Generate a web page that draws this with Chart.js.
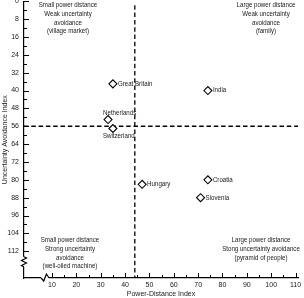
<!DOCTYPE html>
<html>
<head>
<meta charset="utf-8">
<script src="https://cdn.jsdelivr.net/npm/chart.js@4.4.0/dist/chart.umd.min.js"></script>
<style>
  html, body { margin: 0; padding: 0; background: #fff; }
</style>
</head>
<body>
<canvas id="cultureChart" width="304" height="298"></canvas>
<script>
const countries = ['Great Britain', 'India', 'Netherlands', 'Switzerland', 'Hungary', 'Croatia', 'Slovenia'];
const powerDistance = [35, 74, 33, 35, 47, 74, 71];
const uncertaintyAvoidance = [37, 40, 53, 57, 82, 80, 88];

const xTickValues = [10, 15, 20, 25, 30, 35, 40, 45, 50, 55, 60, 65, 70, 75, 80, 85, 90, 95, 100, 105, 110];
const yTickValues = [0, 4, 8, 12, 16, 20, 24, 28, 32, 36, 40, 44, 48, 52, 56, 60, 64, 68, 72, 76, 80, 84, 88, 92, 96, 100, 104, 108, 112];

const pdCut = 44;
const uaiCut = 56;

const quadrantTexts = [
  ['Small power distance', 'Weak uncertainty', 'avoidance', '(village market)'],
  ['Large power distance', 'Weak uncertainty', 'avoidance', '(family)'],
  ['Small power distance', 'Strong uncertainty', 'avoidance', '(well-oiled machine)'],
  ['Large power distance', 'Stong uncertainty avoidance', '(pyramid of people)']
];

// label placement per point (style only)
const labelPlace = [
  { align: 'left', dx: 5, dy: 0 },
  { align: 'left', dx: 5, dy: 0 },
  { align: 'left', dx: -5, dy: -7 },
  { align: 'left', dx: -10, dy: 8 },
  { align: 'left', dx: 5, dy: 0 },
  { align: 'left', dx: 5, dy: 0 },
  { align: 'left', dx: 5, dy: 0 }
];
// quadrant text anchors in pixels: [centerX, firstLineY]
const quadrantPos = [[68, 5], [266, 5], [70, 240], [261, 240.5]];
const SQUEEZE = 0.88;

const FONT = '"Liberation Sans", Arial, sans-serif';
const INK = '#1a1a1a';

const points = powerDistance.map((pd, i) => ({ x: pd, y: uncertaintyAvoidance[i] }));

function squeezedText(ctx, text, x, y) {
  ctx.save();
  ctx.translate(x, y);
  ctx.scale(SQUEEZE, 1);
  ctx.fillText(text, 0, 0);
  ctx.restore();
}

const decorPlugin = {
  id: 'decor',
  beforeDatasetsDraw(chart) {
    const { ctx, chartArea, scales } = chart;
    const px = scales.x.getPixelForValue(pdCut);
    const py = scales.y.getPixelForValue(uaiCut);
    ctx.save();
    ctx.strokeStyle = '#000';
    ctx.lineWidth = 1.3;
    ctx.setLineDash([4.5, 2.8]);
    ctx.beginPath();
    ctx.moveTo(px, chartArea.top + 4);
    ctx.lineTo(px, chartArea.bottom);
    ctx.moveTo(chartArea.left, py);
    ctx.lineTo(chartArea.right, py);
    ctx.stroke();
    ctx.restore();
  },
  afterDraw(chart) {
    const { ctx, chartArea, scales } = chart;
    const left = chartArea.left, bottom = chartArea.bottom;
    ctx.save();
    ctx.strokeStyle = '#000';
    ctx.lineWidth = 1;
    // tick marks drawn inward
    ctx.beginPath();
    yTickValues.forEach(v => {
      const y = Math.round(scales.y.getPixelForValue(v)) + 0.5;
      const len = v % 8 === 0 ? 5 : 3;
      ctx.moveTo(left, y);
      ctx.lineTo(left + len, y);
    });
    xTickValues.forEach(v => {
      const x = Math.round(scales.x.getPixelForValue(v)) + 0.5;
      const len = v % 10 === 0 ? 5 : 3;
      ctx.moveTo(x, bottom);
      ctx.lineTo(x, bottom - len);
    });
    ctx.stroke();

    // axis breaks
    const yb1 = scales.y.getPixelForValue(114.5);
    const yb2 = scales.y.getPixelForValue(119);
    ctx.fillStyle = '#fff';
    ctx.fillRect(left - 3, yb1, 6, yb2 - yb1);
    const xb1 = scales.x.getPixelForValue(5.5);
    const xb2 = scales.x.getPixelForValue(8.8);
    ctx.fillRect(xb1, bottom - 3, xb2 - xb1, 6);
    ctx.lineWidth = 1.2;
    ctx.beginPath();
    const hy = (yb2 - yb1) / 4;
    ctx.moveTo(left, yb1);
    ctx.lineTo(left + 2.5, yb1 + hy * 0.5);
    ctx.lineTo(left - 2.5, yb1 + hy * 1.5);
    ctx.lineTo(left + 2.5, yb1 + hy * 2.5);
    ctx.lineTo(left - 2.5, yb1 + hy * 3.5);
    ctx.lineTo(left, yb2);
    ctx.stroke();
    ctx.beginPath();
    const hx = (xb2 - xb1) / 3;
    ctx.moveTo(xb1, bottom);
    ctx.lineTo(xb1 + hx, bottom + 3);
    ctx.lineTo(xb1 + hx * 2, bottom - 4);
    ctx.lineTo(xb2, bottom);
    ctx.stroke();

    // point labels
    ctx.fillStyle = INK;
    ctx.font = '7px ' + FONT;
    ctx.textBaseline = 'middle';
    const meta = chart.getDatasetMeta(0);
    meta.data.forEach((el, i) => {
      const p = labelPlace[i];
      ctx.textAlign = p.align;
      squeezedText(ctx, countries[i], el.x + p.dx, el.y + p.dy);
    });

    // quadrant texts
    ctx.textAlign = 'center';
    quadrantTexts.forEach((lines, q) => {
      const [cx, y0] = quadrantPos[q];
      lines.forEach((t, k) => squeezedText(ctx, t, cx, y0 + k * 8.8));
    });
    ctx.restore();
  }
};

new Chart(document.getElementById('cultureChart'), {
  type: 'scatter',
  data: {
    datasets: [{
      label: 'Countries',
      data: points,
      pointStyle: 'rectRot',
      radius: 4,
      hoverRadius: 4,
      borderWidth: 1.1,
      borderColor: '#000',
      backgroundColor: '#fff'
    }]
  },
  options: {
    responsive: false,
    animation: false,
    devicePixelRatio: 1,
    layout: { autoPadding: false, padding: { top: 1.3, right: 6, left: 0, bottom: 0 } },
    plugins: {
      legend: { display: false },
      tooltip: { enabled: false }
    },
    scales: {
      x: {
        type: 'linear',
        min: -1.5,
        max: 111,
        afterFit: s => { s.height = 20; s.paddingLeft = 0; s.paddingRight = 0; },
        afterBuildTicks: s => { s.ticks = xTickValues.map(v => ({ value: v })); },
        grid: { display: false, drawTicks: false },
        border: { display: true, color: '#000', width: 1.2 },
        ticks: {
          autoSkip: false,
          maxRotation: 0,
          padding: 3,
          color: INK,
          font: { family: FONT, size: 7 },
          callback: v => (v % 10 === 0 ? String(v) : '')
        },
        title: {
          display: true,
          text: 'Power-Distance Index',
          color: INK,
          padding: { top: 0, bottom: 0 },
          font: { family: FONT, size: 7 }
        }
      },
      y: {
        type: 'linear',
        reverse: true,
        min: 0,
        max: 124,
        afterFit: s => { s.width = 24; s.paddingTop = 0; s.paddingBottom = 0; },
        afterBuildTicks: s => { s.ticks = yTickValues.map(v => ({ value: v })); },
        grid: { display: false, drawTicks: false },
        border: { display: true, color: '#000', width: 1.2 },
        ticks: {
          autoSkip: false,
          padding: 5,
          color: INK,
          font: { family: FONT, size: 7 },
          callback: v => (v % 8 === 0 ? String(v) : '')
        },
        title: {
          display: true,
          text: 'Uncertainty Avoidance Index',
          color: INK,
          padding: { top: 1, bottom: 0 },
          font: { family: FONT, size: 7 }
        }
      }
    }
  },
  plugins: [decorPlugin]
});
</script>
</body>
</html>
